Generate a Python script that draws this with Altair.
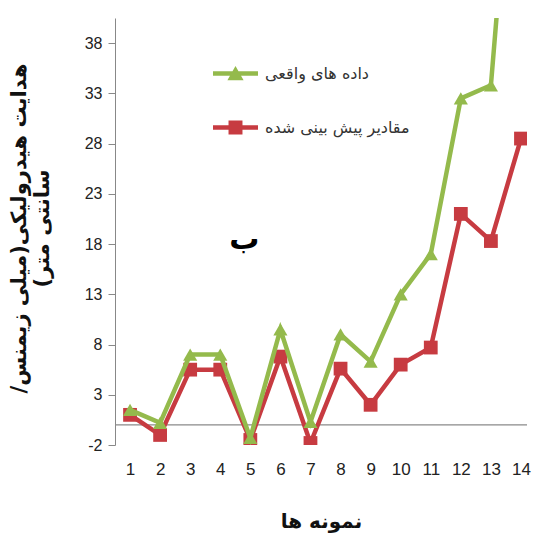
import altair as alt
import pandas as pd

samples = list(range(1, 15))
actual = [1.5, 0.2, 7.0, 7.0, -1.3, 9.5, 0.3, 9.0, 6.3, 13.0, 17.0, 32.5, 33.8, 70.0]
predicted = [1.0, -1.0, 5.5, 5.5, -1.5, 6.8, -1.8, 5.6, 2.0, 6.0, 7.7, 21.0, 18.3, 28.5]
series_names = ["داده های واقعی", "مقادیر پیش بینی شده"]
colors = ["#94BA4C", "#C73B41"]
y_ticks = [-2, 3, 8, 13, 18, 23, 28, 33, 38]
RLM = "\u200f"
y_title = [RLM + "هدایت هیدرولیکی(میلی زیمنس/" + RLM, RLM + "سانتی متر)" + RLM]
x_title = "نمونه ها"
panel_label = ["ب"]
panel_label_x = [4.8]
panel_label_y = [18.4]

df = pd.DataFrame({
    "sample": samples * 2,
    "value": actual + predicted,
    "series": [series_names[0]] * len(samples) + [series_names[1]] * len(samples),
})

NUM_FONT = "Liberation Sans"
AR_FONT = "DejaVu Sans"

xs = alt.Scale(domain=[0.5, 14.2], nice=False, zero=False)
ys = alt.Scale(domain=[-2, 40.5], nice=False, zero=False)

x_axis = alt.Axis(
    values=samples, labelExpr="'' + datum.value", domain=False, ticks=False, grid=False,
    labelOverlap=False, labelFlush=False, labelSeparation=0,
    labelFont=NUM_FONT, labelFontSize=17, labelColor="#222", labelPadding=16,
    title=x_title, titleFont=AR_FONT, titleFontSize=20, titleFontWeight="bold",
    titleColor="#111", titlePadding=34)
y_axis = alt.Axis(
    values=y_ticks, grid=False, domainColor="#888", tickColor="#888", tickSize=7,
    labelExpr="'' + datum.value", labelOverlap=False, labelFlush=False,
    labelFont=NUM_FONT, labelFontSize=16, labelColor="#222", labelPadding=6,
    title=y_title, titleFont=AR_FONT, titleFontSize=21, titleFontWeight="bold",
    titleColor="#111", titleLineHeight=23, titleX=-86, titleY=210, titleAngle=270,
    titleAlign="center")

x_enc = alt.X("sample:Q", scale=xs, axis=x_axis)
y_enc = alt.Y("value:Q", scale=ys, axis=y_axis)

color_scale = alt.Scale(domain=series_names, range=colors)

base = alt.Chart(df).encode(x=x_enc, y=y_enc)

zero_rule = alt.Chart(pd.DataFrame({"z": [0]})).mark_rule(
    color="#8a8a8a", strokeWidth=1.3).encode(y=alt.Y("z:Q", scale=ys, axis=y_axis))

red = base.transform_filter(alt.datum.series == series_names[1])
green = base.transform_filter(alt.datum.series == series_names[0])

red_line = red.mark_line(color=colors[1], strokeWidth=4.5, clip=True)
red_pts = red.mark_point(shape="square", filled=True, size=190, opacity=1,
                         color=colors[1], clip=True)
green_line = green.mark_line(color=colors[0], strokeWidth=4.5, clip=True)
green_pts = green.mark_point(shape="triangle-up", filled=True, size=200, opacity=1,
                             color=colors[0], clip=True)

tri_path = "M-1,-0.1L1,-0.1L1,0.1L-1,0.1Z M-0.36,0.3L0,-0.33L0.36,0.3Z"
sq_path = "M-1,-0.1L1,-0.1L1,0.1L-1,0.1Z M-0.31,-0.31L0.31,-0.31L0.31,0.31L-0.31,0.31Z"

leg = alt.Legend(orient="none", legendX=98, legendY=33, title=None, padding=0,
                 symbolSize=2025, symbolOpacity=1, symbolStrokeWidth=0,
                 labelFont=AR_FONT, labelFontSize=16, labelColor="#333",
                 labelOffset=7, rowPadding=23)
legend_layer = base.mark_point(filled=True, opacity=0).encode(
    color=alt.Color("series:N", scale=color_scale, legend=leg),
    shape=alt.Shape("series:N", scale=alt.Scale(domain=series_names, range=[tri_path, sq_path]),
                    legend=leg))

label_df = pd.DataFrame({"t": panel_label, "x": panel_label_x, "y": panel_label_y})
label_layer = alt.Chart(label_df).mark_text(
    font=AR_FONT, fontSize=30, fontWeight="bold", color="#000").encode(
    x=alt.X("x:Q", scale=xs, axis=x_axis), y=alt.Y("y:Q", scale=ys, axis=y_axis), text="t:N")

chart = alt.layer(zero_rule, red_line, red_pts, green_line, green_pts, legend_layer, label_layer).properties(
    width=412, height=427,
    background="white",
    autosize=alt.AutoSizeParams(type="none"),
    padding={"left": 107, "top": 10, "right": 6, "bottom": 92},
).configure_view(stroke=None)

chart.save("out.html", embed_options={"renderer": "svg", "actions": False})
